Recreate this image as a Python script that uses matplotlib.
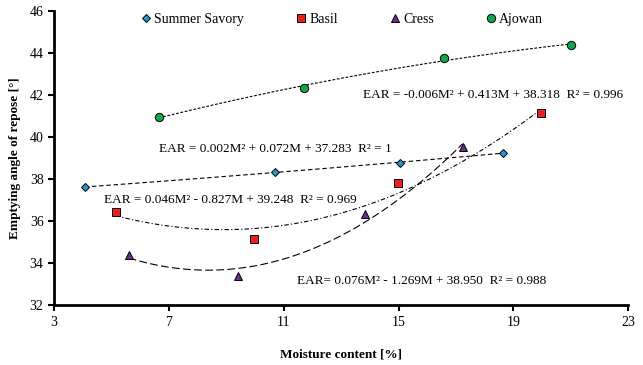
import numpy as np
import matplotlib
matplotlib.use("Agg")
import matplotlib.pyplot as plt

plt.rcParams['font.family'] = ['Liberation Serif', 'DejaVu Serif']

# data
savory_m = [4.07, 10.69, 15.04, 18.63]
savory_ear = [37.62, 38.33, 38.78, 39.24]
basil_m = [5.15, 9.95, 14.97, 19.95]
basil_ear = [36.43, 35.14, 37.81, 41.14]
cress_m = [5.6, 9.4, 13.82, 17.23]
cress_ear = [34.38, 33.38, 36.33, 39.52]
ajowan_m = [6.65, 11.7, 16.6, 20.99]
ajowan_ear = [40.95, 42.33, 43.76, 44.38]

eq_labels = [
    "EAR = -0.006M² + 0.413M + 38.318  R² = 0.996",
    "EAR = 0.002M² + 0.072M + 37.283  R² = 1",
    "EAR = 0.046M² - 0.827M + 39.248  R² = 0.969",
    "EAR= 0.076M² - 1.269M + 38.950  R² = 0.988",
]

series = [
    ("Summer Savory", savory_m, savory_ear, 'D', '#1e9bd7', 4, (0, (4, 2.5))),
    ("Basil", basil_m, basil_ear, 's', '#ee1c1c', 6, (0, (4, 2, 1, 2))),
    ("Cress", cress_m, cress_ear, '^', '#6a2c91', 6, (0, (7, 3))),
    ("Ajowan", ajowan_m, ajowan_ear, 'o', '#12a84a', 6, (0, (2.5, 1.5))),
]

fig = plt.figure(figsize=(6.43, 3.65), dpi=100)
ax = fig.add_axes([0.084, 0.164, 0.893, 0.806])

for name, m, ear, mk, col, ms, ls in series:
    coef = np.polyfit(m, ear, 2)
    xs = np.linspace(min(m), max(m), 100)
    ax.plot(xs, np.polyval(coef, xs), color='black', lw=0.8, linestyle=ls, zorder=2)
    ax.plot(m, ear, linestyle='none', marker=mk, markersize=ms, markerfacecolor=col,
            markeredgecolor='black', markeredgewidth=0.7, label=name, zorder=3)

ax.text(13.76, 42.0, eq_labels[0], fontsize=9.5, va='center', ha='left')
ax.text(6.65, 39.43, eq_labels[1], fontsize=9.5, va='center', ha='left')
ax.text(4.73, 37.0, eq_labels[2], fontsize=9.5, va='center', ha='left')
ax.text(11.46, 33.14, eq_labels[3], fontsize=9.5, va='center', ha='left')

ax.set_xlim(3, 23)
ax.set_ylim(32, 46)
ax.set_xticks(np.arange(3, 24, 4))
ax.set_yticks(np.arange(32, 47, 2))
ax.tick_params(labelsize=10, width=1.5, length=4, direction='out')
for s in ['top', 'right']:
    ax.spines[s].set_visible(False)
for s in ['left', 'bottom']:
    ax.spines[s].set_linewidth(2)

ax.set_xlabel("Moisture content [%]", fontweight='bold', fontsize=9.5, labelpad=14)
ax.set_ylabel("Emptying angle of repose [°]", fontweight='bold', fontsize=9.5, labelpad=6)

ax.legend(loc='upper center', bbox_to_anchor=(0.5, 1.035), ncol=4, frameon=False,
          fontsize=10, handletextpad=0.1, columnspacing=3.6, handlelength=1.0)

fig.savefig("out.png", dpi=100)
